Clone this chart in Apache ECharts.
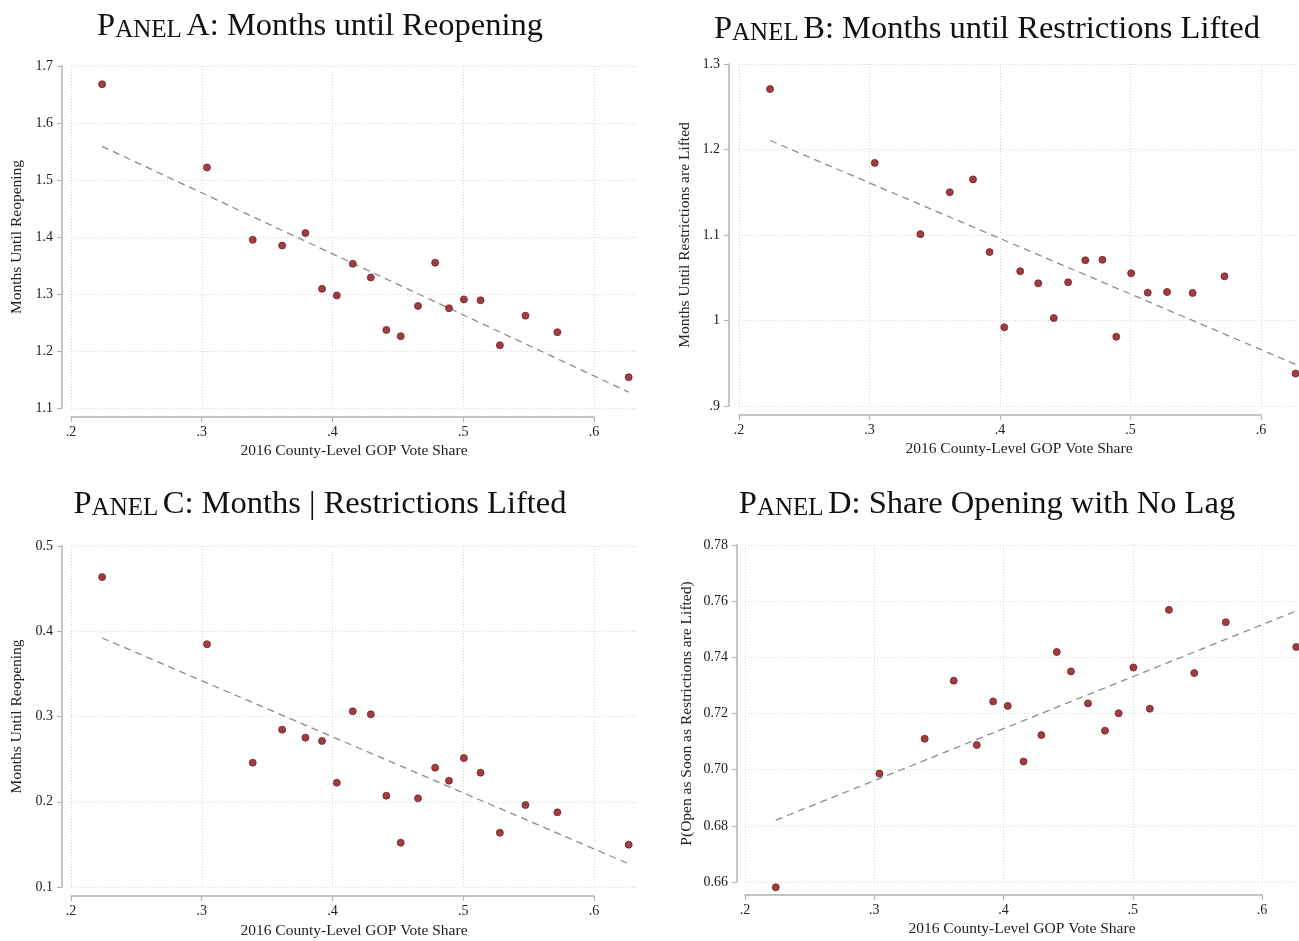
<!DOCTYPE html>
<html><head><meta charset="utf-8">
<script src="https://cdn.jsdelivr.net/npm/echarts@6/dist/echarts.min.js"></script>
<style>html,body{margin:0;padding:0;background:#fff}#c{width:1299px;height:941px}</style>
</head><body><div id="c"></div>
<script>
// ---- data ----
const gopShare = [0.2238, 0.3040, 0.3390, 0.3615, 0.3793, 0.3920, 0.4033, 0.4155, 0.4293, 0.4412, 0.4522, 0.4654, 0.4785, 0.4891, 0.5005, 0.5132, 0.5280, 0.5476, 0.5720, 0.6265];
const monthsUntilReopening = [1.668, 1.522, 1.395, 1.385, 1.407, 1.309, 1.2975, 1.353, 1.329, 1.237, 1.226, 1.279, 1.355, 1.275, 1.2905, 1.289, 1.210, 1.262, 1.233, 1.154];
const monthsUntilLifted = [1.2707, 1.1843, 1.101, 1.150, 1.165, 1.080, 0.992, 1.0576, 1.0435, 1.0028, 1.0447, 1.0705, 1.071, 0.981, 1.0552, 1.0326, 1.0333, 1.0322, 1.0517, 0.9379];
const monthsGivenLifted = [0.4636, 0.3847, 0.2458, 0.2846, 0.2752, 0.2713, 0.2224, 0.3061, 0.3025, 0.2071, 0.152, 0.204, 0.240, 0.2247, 0.2513, 0.2341, 0.1637, 0.1962, 0.1876, 0.1497];
const shareNoLag = [0.6581, 0.6986, 0.711, 0.7317, 0.7088, 0.7243, 0.7227, 0.7029, 0.7123, 0.7419, 0.735, 0.7236, 0.7139, 0.7201, 0.7364, 0.7217, 0.7569, 0.7344, 0.7525, 0.7437];

const fitA = [[0.2238, 1.559], [0.6265, 1.128]];
const fitB = [[0.2238, 1.2105], [0.6265, 0.9487]];
const fitC = [[0.2238, 0.3921], [0.6265, 0.1273]];
const fitD = [[0.2238, 0.682], [0.6265, 0.7565]];

const xTickLabels = ['.2', '.3', '.4', '.5', '.6'];
const yTicksA = ['1.1', '1.2', '1.3', '1.4', '1.5', '1.6', '1.7'];
const yTicksB = ['.9', '1', '1.1', '1.2', '1.3'];
const yTicksC = ['0.1', '0.2', '0.3', '0.4', '0.5'];
const yTicksD = ['0.66', '0.68', '0.70', '0.72', '0.74', '0.76', '0.78'];

const panelLetters = ['A', 'B', 'C', 'D'];
const panelTitles = ['Months until Reopening', 'Months until Restrictions Lifted', 'Months | Restrictions Lifted', 'Share Opening with No Lag'];
const yTitles = ['Months Until Reopening', 'Months Until Restrictions are Lifted', 'Months Until Reopening', 'P(Open as Soon as Restrictions are Lifted)'];
const xTitle = '2016 County-Level GOP Vote Share';

// ---- layout ----
const FONT = 'Liberation Serif';
const panels = [
  {values: monthsUntilReopening, fit: fitA, yTicks: yTicksA, ymin: 1.1, ymax: 1.7, yint: 0.1,
   tx: 320, ty: 9, left: 71, top: 66, height: 342, right: 637, pxu: 1307.5, axisY: 417, yOff: 9, yGap: 37, xGap: 35},
  {values: monthsUntilLifted, fit: fitB, yTicks: yTicksB, ymin: 0.9, ymax: 1.3, yint: 0.1,
   tx: 987, ty: 12, left: 739, top: 64, height: 342, right: 1299, pxu: 1305, axisY: 415, yOff: 10, yGap: 36, xGap: 35},
  {values: monthsGivenLifted, fit: fitC, yTicks: yTicksC, ymin: 0.1, ymax: 0.5, yint: 0.1,
   tx: 320, ty: 487, left: 71, top: 546, height: 341, right: 637, pxu: 1307.5, axisY: 896, yOff: 9, yGap: 37, xGap: 36},
  {values: shareNoLag, fit: fitD, yTicks: yTicksD, ymin: 0.66, ymax: 0.78, yint: 0.02,
   tx: 987, ty: 487, left: 745, top: 545, height: 337, right: 1299, pxu: 1292.5, axisY: 895, yOff: 8, yGap: 42, xGap: 39}
];

const gridLine = {show: true, lineStyle: {color: '#d6d6d6', type: [1, 2], width: 1}};
const axisColor = '#b3b3b3';
const labelStyle = {fontFamily: FONT, fontSize: 14, color: '#222'};

const option = {animation: false, backgroundColor: '#fff', title: [], grid: [], xAxis: [], yAxis: [], series: []};

panels.forEach((p, i) => {
  const width = p.right - p.left;
  const xmax = 0.2 + width / p.pxu;
  option.title.push({
    text: '{big|P}{sc|ANEL} {big|' + panelLetters[i] + ': ' + panelTitles[i] + '}',
    left: p.tx, top: p.ty, textAlign: 'center', padding: 0,
    textStyle: {fontWeight: 'normal', fontFamily: FONT, rich: {
      big: {fontFamily: FONT, fontWeight: 'normal', fontSize: 32.5, color: '#111', verticalAlign: 'bottom', lineHeight: 34},
      sc: {fontFamily: FONT, fontWeight: 'normal', fontSize: 25, color: '#111', verticalAlign: 'bottom', lineHeight: 28}
    }}
  });
  // data grid
  const gData = option.grid.length;
  option.grid.push({left: p.left, top: p.top, width: width, height: p.height, containLabel: false});
  const xData = option.xAxis.length;
  option.xAxis.push({
    type: 'value', gridIndex: gData, min: 0.2, max: xmax, interval: 0.1,
    axisLine: {show: false}, axisTick: {show: false}, axisLabel: {show: false},
    splitLine: Object.assign({showMaxLine: false}, gridLine),
    name: xTitle, nameLocation: 'middle', nameGap: p.xGap,
    nameTextStyle: {fontFamily: FONT, fontSize: 15.5, color: '#222'}
  });
  const yData = option.yAxis.length;
  const labels = p.yTicks, ymin = p.ymin, yint = p.yint;
  option.yAxis.push({
    type: 'value', gridIndex: gData, min: p.ymin, max: p.ymax, interval: p.yint, offset: p.yOff,
    axisLine: {show: true, lineStyle: {color: axisColor, width: 1.5}},
    axisTick: {show: true, length: 5, lineStyle: {color: axisColor, width: 1.2}},
    axisLabel: Object.assign({margin: 9, formatter: v => labels[Math.round((v - ymin) / yint)]}, labelStyle),
    splitLine: gridLine,
    name: yTitles[i], nameLocation: 'middle', nameGap: p.yGap, nameRotate: 90,
    nameTextStyle: {fontFamily: FONT, fontSize: 15.5, color: '#222'}
  });
  // x axis-only grid (axis spans .2 to .6)
  const gAx = option.grid.length;
  option.grid.push({left: p.left, top: p.axisY - 1, width: 0.4 * p.pxu, height: 1, containLabel: false});
  option.xAxis.push({
    type: 'value', gridIndex: gAx, min: 0.2, max: 0.6, interval: 0.1,
    axisLine: {show: true, lineStyle: {color: axisColor, width: 1.5}},
    axisTick: {show: true, length: 5, lineStyle: {color: axisColor, width: 1.2}},
    axisLabel: Object.assign({margin: 8, formatter: v => xTickLabels[Math.round((v - 0.2) / 0.1)]}, labelStyle),
    splitLine: {show: false}
  });
  option.yAxis.push({type: 'value', gridIndex: gAx, show: false, min: 0, max: 1, splitLine: {show: false}});

  option.series.push({
    type: 'line', xAxisIndex: xData, yAxisIndex: yData, data: p.fit, symbol: 'none', silent: true,
    lineStyle: {color: '#8c8c8c', width: 1.3, type: [7, 5]}, z: 2
  });
  option.series.push({
    type: 'scatter', xAxisIndex: xData, yAxisIndex: yData, clip: false,
    data: gopShare.map((x, k) => [x, p.values[k]]), symbol: 'circle', symbolSize: 7,
    itemStyle: {color: '#a03c42', borderColor: '#6f2428', borderWidth: 0.8, opacity: 1}, z: 3
  });
});

const chart = echarts.init(document.getElementById('c'), null, {renderer: 'canvas'});
chart.setOption(option);
</script>
</body></html>
